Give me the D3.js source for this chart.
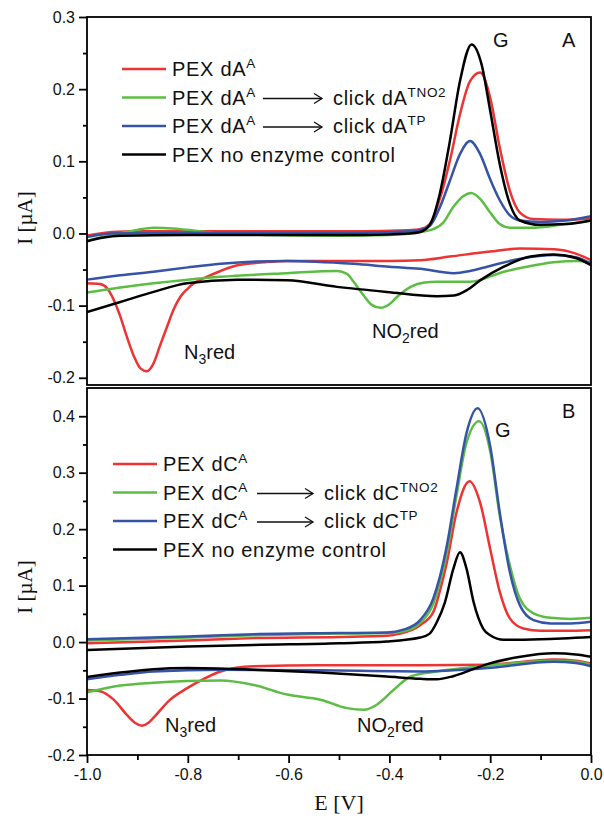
<!DOCTYPE html>
<html>
<head>
<meta charset="utf-8">
<script src="https://cdn.jsdelivr.net/npm/d3@7"></script>
<style>
  html, body { margin: 0; padding: 0; background: #fff; }
  svg { display: block; }
</style>
</head>
<body>
<svg id="chart" width="604" height="822"></svg>
<script>
// ---- Panel A: dA series, [E (V), I (µA)] pairs; fwd = upper (anodic) sweep, rev = lower sweep ----
const dA_A_fwd = [[-1.0,-0.003],[-0.95,0.002],[-0.9,0.003],[-0.8,0.003],[-0.6,0.003],[-0.45,0.003],[-0.38,0.004],[-0.34,0.006],[-0.32,0.013],[-0.30,0.048],[-0.28,0.101],[-0.26,0.165],[-0.24,0.211],[-0.22,0.223],[-0.20,0.188],[-0.181,0.119],[-0.161,0.059],[-0.141,0.029],[-0.114,0.020],[-0.06,0.019],[0.0,0.020]];
const dA_A_rev = [[-1.0,-0.069],[-0.974,-0.070],[-0.96,-0.076],[-0.947,-0.092],[-0.934,-0.115],[-0.921,-0.143],[-0.907,-0.170],[-0.894,-0.187],[-0.881,-0.191],[-0.868,-0.180],[-0.855,-0.155],[-0.841,-0.129],[-0.828,-0.105],[-0.815,-0.088],[-0.801,-0.077],[-0.788,-0.069],[-0.768,-0.062],[-0.735,-0.052],[-0.702,-0.044],[-0.65,-0.040],[-0.603,-0.038],[-0.5,-0.038],[-0.4,-0.038],[-0.339,-0.037],[-0.28,-0.032],[-0.2,-0.025],[-0.141,-0.021],[-0.073,-0.022],[-0.03,-0.028],[0.0,-0.037]];
const dA_TNO2_fwd = [[-1.0,-0.010],[-0.97,-0.005],[-0.934,0.000],[-0.9,0.005],[-0.868,0.008],[-0.83,0.007],[-0.802,0.005],[-0.735,0.000],[-0.65,-0.002],[-0.5,-0.003],[-0.4,-0.002],[-0.339,0.002],[-0.313,0.006],[-0.293,0.015],[-0.274,0.036],[-0.253,0.052],[-0.238,0.056],[-0.22,0.048],[-0.2,0.029],[-0.181,0.013],[-0.161,0.008],[-0.12,0.008],[-0.06,0.012],[0.0,0.018]];
const dA_TNO2_rev = [[-1.0,-0.082],[-0.934,-0.075],[-0.868,-0.069],[-0.8,-0.064],[-0.735,-0.060],[-0.603,-0.055],[-0.504,-0.052],[-0.484,-0.056],[-0.471,-0.067],[-0.451,-0.086],[-0.435,-0.099],[-0.418,-0.103],[-0.40,-0.098],[-0.385,-0.088],[-0.358,-0.074],[-0.33,-0.068],[-0.306,-0.067],[-0.240,-0.067],[-0.173,-0.053],[-0.12,-0.045],[-0.074,-0.040],[-0.03,-0.038],[0.0,-0.040]];
const dA_TP_fwd = [[-1.0,-0.005],[-0.95,0.000],[-0.8,0.001],[-0.6,0.001],[-0.45,0.001],[-0.36,0.003],[-0.339,0.005],[-0.319,0.011],[-0.3,0.036],[-0.28,0.073],[-0.26,0.110],[-0.24,0.128],[-0.22,0.110],[-0.2,0.075],[-0.181,0.046],[-0.161,0.025],[-0.141,0.018],[-0.1,0.016],[-0.05,0.018],[0.0,0.024]];
const dA_TP_rev = [[-1.0,-0.064],[-0.934,-0.058],[-0.868,-0.053],[-0.8,-0.047],[-0.735,-0.042],[-0.603,-0.038],[-0.471,-0.042],[-0.4,-0.046],[-0.339,-0.049],[-0.272,-0.055],[-0.24,-0.052],[-0.206,-0.046],[-0.14,-0.035],[-0.074,-0.030],[-0.03,-0.033],[0.0,-0.042]];
const dA_ctrl_fwd = [[-1.0,-0.011],[-0.97,-0.006],[-0.934,-0.003],[-0.8,-0.002],[-0.6,-0.002],[-0.45,-0.002],[-0.36,0.000],[-0.339,0.002],[-0.319,0.013],[-0.3,0.055],[-0.28,0.128],[-0.26,0.211],[-0.237,0.262],[-0.217,0.234],[-0.2,0.170],[-0.181,0.096],[-0.161,0.041],[-0.141,0.018],[-0.101,0.012],[-0.05,0.013],[0.0,0.018]];
const dA_ctrl_rev = [[-1.0,-0.109],[-0.934,-0.095],[-0.868,-0.081],[-0.802,-0.069],[-0.702,-0.064],[-0.603,-0.065],[-0.504,-0.074],[-0.405,-0.081],[-0.306,-0.087],[-0.272,-0.086],[-0.245,-0.078],[-0.220,-0.065],[-0.173,-0.046],[-0.120,-0.032],[-0.074,-0.029],[-0.03,-0.034],[0.0,-0.044]];

// ---- Panel B: dC series ----
const dC_A_fwd = [[-1.0,-0.002],[-0.8,0.003],[-0.669,0.007],[-0.5,0.009],[-0.405,0.011],[-0.379,0.015],[-0.339,0.030],[-0.313,0.053],[-0.30,0.090],[-0.286,0.141],[-0.267,0.229],[-0.241,0.285],[-0.220,0.247],[-0.2,0.165],[-0.181,0.089],[-0.161,0.042],[-0.134,0.024],[-0.1,0.020],[-0.05,0.020],[0.0,0.021]];
const dC_A_rev = [[-1.0,-0.085],[-0.974,-0.087],[-0.947,-0.102],[-0.921,-0.129],[-0.905,-0.143],[-0.891,-0.148],[-0.878,-0.143],[-0.868,-0.134],[-0.835,-0.102],[-0.802,-0.082],[-0.77,-0.066],[-0.735,-0.052],[-0.669,-0.043],[-0.537,-0.041],[-0.339,-0.041],[-0.206,-0.040],[-0.074,-0.031],[-0.03,-0.033],[0.0,-0.038]];
const dC_TNO2_fwd = [[-1.0,0.003],[-0.8,0.008],[-0.669,0.012],[-0.5,0.015],[-0.405,0.016],[-0.372,0.019],[-0.339,0.034],[-0.313,0.068],[-0.30,0.105],[-0.286,0.159],[-0.267,0.259],[-0.247,0.353],[-0.222,0.391],[-0.2,0.338],[-0.181,0.224],[-0.161,0.136],[-0.141,0.077],[-0.114,0.051],[-0.08,0.043],[-0.04,0.041],[0.0,0.043]];
const dC_TNO2_rev = [[-1.0,-0.089],[-0.934,-0.077],[-0.868,-0.072],[-0.802,-0.069],[-0.735,-0.068],[-0.669,-0.076],[-0.603,-0.093],[-0.537,-0.102],[-0.484,-0.117],[-0.451,-0.120],[-0.425,-0.111],[-0.392,-0.085],[-0.358,-0.061],[-0.306,-0.052],[-0.206,-0.042],[-0.074,-0.033],[-0.03,-0.035],[0.0,-0.040]];
const dC_TP_fwd = [[-1.0,0.005],[-0.8,0.010],[-0.669,0.014],[-0.5,0.016],[-0.405,0.017],[-0.372,0.022],[-0.339,0.039],[-0.313,0.077],[-0.30,0.115],[-0.286,0.171],[-0.267,0.271],[-0.247,0.370],[-0.225,0.414],[-0.2,0.347],[-0.181,0.229],[-0.161,0.124],[-0.141,0.065],[-0.114,0.039],[-0.08,0.033],[-0.04,0.033],[0.0,0.036]];
const dC_TP_rev = [[-1.0,-0.066],[-0.934,-0.058],[-0.868,-0.052],[-0.735,-0.049],[-0.537,-0.050],[-0.339,-0.052],[-0.206,-0.046],[-0.074,-0.035],[-0.03,-0.037],[0.0,-0.043]];
const dC_ctrl_fwd = [[-1.0,-0.014],[-0.8,-0.008],[-0.669,-0.005],[-0.5,-0.002],[-0.405,0.001],[-0.339,0.008],[-0.32,0.015],[-0.306,0.035],[-0.29,0.070],[-0.273,0.130],[-0.260,0.159],[-0.247,0.130],[-0.233,0.071],[-0.214,0.024],[-0.20,0.012],[-0.173,0.004],[-0.1,0.005],[0.0,0.009]];
const dC_ctrl_rev = [[-1.0,-0.062],[-0.934,-0.054],[-0.868,-0.048],[-0.802,-0.046],[-0.669,-0.049],[-0.537,-0.054],[-0.405,-0.061],[-0.339,-0.065],[-0.306,-0.066],[-0.272,-0.060],[-0.206,-0.039],[-0.140,-0.026],[-0.074,-0.020],[-0.03,-0.022],[0.0,-0.026]];

// ---- Ticks ----
const xTicksMajor = [-1.0, -0.8, -0.6, -0.4, -0.2, 0.0];
const xTicksMinor = [-0.9, -0.7, -0.5, -0.3, -0.1];
const yTicksA = [-0.2, -0.1, 0.0, 0.1, 0.2, 0.3];
const yTicksAMinor = [-0.15, -0.05, 0.05, 0.15, 0.25];
const yTicksB = [-0.2, -0.1, 0.0, 0.1, 0.2, 0.3, 0.4];
const yTicksBMinor = [-0.15, -0.05, 0.05, 0.15, 0.25, 0.35];

// ---- Series colours ----
const seriesColors = ["#ee3333", "#5cbd45", "#3653a8", "#000000"];

const svg = d3.select("#chart");
const SANS = '"Liberation Sans", Arial, sans-serif';
const SERIF = '"Liberation Serif", "Times New Roman", serif';
const LEGEND_SIZE = 20, LEGEND_SPACING = 0.7;

const x = d3.scaleLinear().domain([-1, 0]).range([87, 591]);

function drawPanel(opts) {
  const y = d3.scaleLinear().domain(opts.yDomain).range(opts.yRange);
  const g = svg.append("g");
  const clipId = "clip-" + opts.id;
  svg.append("defs").append("clipPath").attr("id", clipId)
    .append("rect")
    .attr("x", x(-1)).attr("y", y.range()[1])
    .attr("width", x(0) - x(-1)).attr("height", y.range()[0] - y.range()[1]);

  // voltammogram branches
  const line = d3.line().x(d => x(d[0])).y(d => y(d[1])).curve(d3.curveMonotoneX);
  const lines = g.append("g").attr("clip-path", `url(#${clipId})`);
  opts.series.forEach((branches, i) => {
    branches.forEach(b => {
      lines.append("path").attr("d", line(b))
        .attr("fill", "none").attr("stroke", seriesColors[i])
        .attr("stroke-width", 2.5).attr("stroke-linejoin", "round");
    });
  });

  // frame
  g.append("rect")
    .attr("x", x(-1)).attr("y", y.range()[1])
    .attr("width", x(0) - x(-1)).attr("height", y.range()[0] - y.range()[1])
    .attr("fill", "none").attr("stroke", "#000").attr("stroke-width", 1.8);

  // y axis
  const yAx = g.append("g").attr("transform", `translate(${x(-1)},0)`)
    .call(d3.axisLeft(y).tickValues(opts.yTicks).tickSize(8).tickPadding(4)
      .tickFormat(d => d.toFixed(1)));
  yAx.call(s => s.select(".domain").remove());
  yAx.selectAll("line").attr("stroke-width", 1.8);
  yAx.selectAll("text").attr("font-size", 16).attr("font-family", SANS).attr("fill", "#111");
  const yMin = g.append("g").attr("transform", `translate(${x(-1)},0)`)
    .call(d3.axisLeft(y).tickValues(opts.yMinor).tickSize(4).tickFormat(""));
  yMin.call(s => s.select(".domain").remove());
  yMin.selectAll("line").attr("stroke-width", 1.8);

  // y title
  g.append("text")
    .attr("transform", `translate(32,${opts.yTitleY}) rotate(-90)`)
    .attr("text-anchor", "middle")
    .attr("font-family", SERIF).attr("font-size", 21).attr("fill", "#111")
    .text("I [µA]");

  if (opts.xLabels) {
    const xb = y.range()[0];
    const xAx = g.append("g").attr("transform", `translate(0,${xb})`)
      .call(d3.axisBottom(x).tickValues(xTicksMajor).tickSize(8).tickPadding(6)
        .tickFormat(d => d.toFixed(1)));
    xAx.call(s => s.select(".domain").remove());
    xAx.selectAll("line").attr("stroke-width", 1.8);
    xAx.selectAll("text").attr("font-size", 16).attr("font-family", SANS).attr("fill", "#111");
    const xMin = g.append("g").attr("transform", `translate(0,${xb})`)
      .call(d3.axisBottom(x).tickValues(xTicksMinor).tickSize(5).tickFormat(""));
    xMin.call(s => s.select(".domain").remove());
    xMin.selectAll("line").attr("stroke-width", 1.8);
  }

  // legend
  const L = opts.legend;
  L.rows.forEach((r, i) => {
    const yy = L.y0 + i * L.dy;
    g.append("line").attr("x1", L.x0).attr("x2", L.x0 + 44)
      .attr("y1", yy).attr("y2", yy)
      .attr("stroke", seriesColors[i]).attr("stroke-width", 2.6);
    const t = g.append("text").attr("x", L.x0 + 50).attr("y", yy + 7)
      .attr("font-family", SANS).attr("font-size", LEGEND_SIZE)
      .attr("letter-spacing", LEGEND_SPACING).attr("fill", "#111");
    t.append("tspan").text(r.main);
    if (r.sup) {
      t.append("tspan").attr("font-size", 13.5).attr("dy", -8).text(r.sup);
    }
    if (r.target) {
      const ax0 = L.arrowX0, ax1 = L.arrowX1, ay = yy + 1;
      g.append("line").attr("x1", ax0).attr("x2", ax1).attr("y1", ay).attr("y2", ay)
        .attr("stroke", "#111").attr("stroke-width", 1.3);
      g.append("path").attr("d", `M${ax1 - 8},${ay - 5}L${ax1},${ay}L${ax1 - 8},${ay + 5}`)
        .attr("fill", "none").attr("stroke", "#111").attr("stroke-width", 1.3);
      const t2 = g.append("text").attr("x", L.textX2).attr("y", yy + 7)
        .attr("font-family", SANS).attr("font-size", LEGEND_SIZE)
        .attr("letter-spacing", LEGEND_SPACING).attr("fill", "#111");
      t2.append("tspan").text(r.target);
      t2.append("tspan").attr("font-size", 13.5).attr("dy", -8).text(r.targetSup);
    }
  });

  // peak annotations and panel letters
  opts.notes.forEach(n => {
    const t = g.append("text").attr("x", n.x).attr("y", n.y)
      .attr("font-family", SANS).attr("font-size", 20).attr("fill", "#111");
    t.append("tspan").text(n.a);
    if (n.sub) {
      t.append("tspan").attr("font-size", 14).attr("dy", 5).text(n.sub);
      t.append("tspan").attr("dy", -5).text(n.b);
    }
  });
}

drawPanel({
  id: "A",
  yDomain: [-0.21, 0.3], yRange: [385, 17],
  yTicks: yTicksA, yMinor: yTicksAMinor, yTitleY: 218,
  xLabels: false,
  series: [[dA_A_fwd, dA_A_rev], [dA_TNO2_fwd, dA_TNO2_rev], [dA_TP_fwd, dA_TP_rev], [dA_ctrl_fwd, dA_ctrl_rev]],
  legend: {
    x0: 122, y0: 69, dy: 28.5, arrowX0: 263, arrowX1: 322, textX2: 333,
    rows: [
      { main: "PEX dA", sup: "A" },
      { main: "PEX dA", sup: "A", target: "click dA", targetSup: "TNO2" },
      { main: "PEX dA", sup: "A", target: "click dA", targetSup: "TP" },
      { main: "PEX no enzyme control" }
    ]
  },
  notes: [
    { x: 493, y: 47, a: "G" },
    { x: 562, y: 47, a: "A" },
    { x: 184, y: 359, a: "N", sub: "3", b: "red" },
    { x: 372, y: 338, a: "NO", sub: "2", b: "red" }
  ]
});

drawPanel({
  id: "B",
  yDomain: [-0.2, 0.45], yRange: [755, 388],
  yTicks: yTicksB, yMinor: yTicksBMinor, yTitleY: 587,
  xLabels: true,
  series: [[dC_A_fwd, dC_A_rev], [dC_TNO2_fwd, dC_TNO2_rev], [dC_TP_fwd, dC_TP_rev], [dC_ctrl_fwd, dC_ctrl_rev]],
  legend: {
    x0: 113, y0: 464, dy: 28.5, arrowX0: 257, arrowX1: 313, textX2: 324,
    rows: [
      { main: "PEX dC", sup: "A" },
      { main: "PEX dC", sup: "A", target: "click dC", targetSup: "TNO2" },
      { main: "PEX dC", sup: "A", target: "click dC", targetSup: "TP" },
      { main: "PEX no enzyme control" }
    ]
  },
  notes: [
    { x: 495, y: 437, a: "G" },
    { x: 562, y: 418, a: "B" },
    { x: 165, y: 732, a: "N", sub: "3", b: "red" },
    { x: 357, y: 732, a: "NO", sub: "2", b: "red" }
  ]
});

// x-axis title
svg.append("text")
  .attr("x", (x(-1) + x(0)) / 2).attr("y", 810)
  .attr("text-anchor", "middle")
  .attr("font-family", SERIF).attr("font-size", 22).attr("fill", "#111")
  .text("E [V]");
</script>
</body>
</html>
